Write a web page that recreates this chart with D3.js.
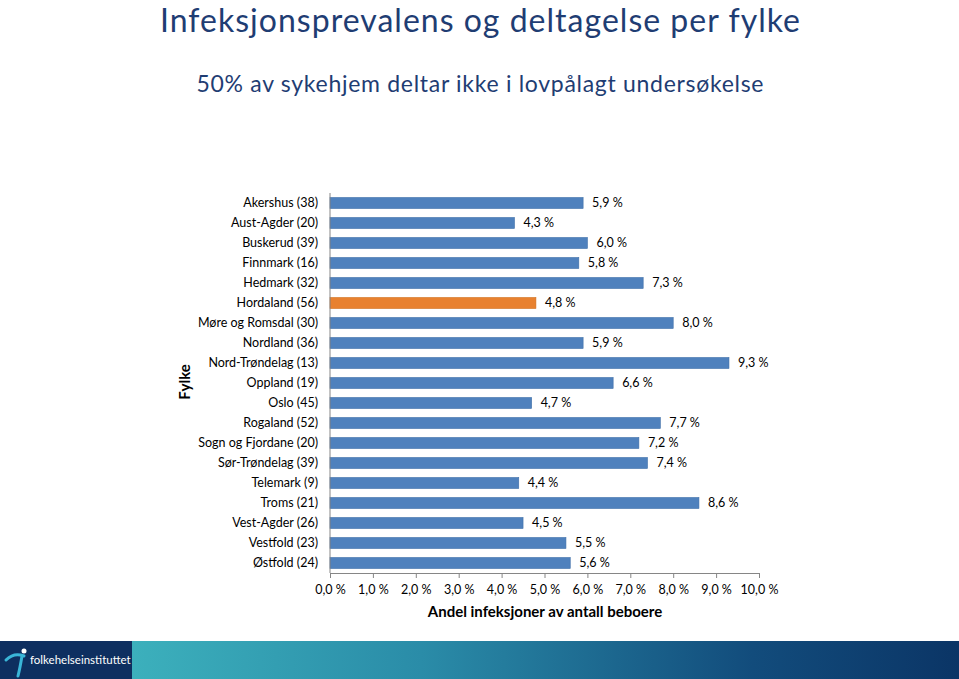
<!DOCTYPE html>
<html><head><meta charset="utf-8">
<script src="https://cdn.jsdelivr.net/npm/d3@7"></script>
<style>body{margin:0;background:#fff;}svg{display:block;font-family:Lato,"Noto Sans",sans-serif;}</style>
</head><body><svg id="c" width="959" height="679"></svg>
<script>
const categories = ["Akershus (38)","Aust-Agder (20)","Buskerud (39)","Finnmark (16)","Hedmark (32)","Hordaland (56)","Møre og Romsdal (30)","Nordland (36)","Nord-Trøndelag (13)","Oppland (19)","Oslo (45)","Rogaland (52)","Sogn og Fjordane (20)","Sør-Trøndelag (39)","Telemark (9)","Troms (21)","Vest-Agder (26)","Vestfold (23)","Østfold (24)"];
const values = [5.9,4.3,6.0,5.8,7.3,4.8,8.0,5.9,9.3,6.6,4.7,7.7,7.2,7.4,4.4,8.6,4.5,5.5,5.6];
const highlighted = ["Hordaland (56)"];
const xTicks = [0,1,2,3,4,5,6,7,8,9,10];
const title = "Infeksjonsprevalens og deltagelse per fylke";
const subtitle = "50% av sykehjem deltar ikke i lovpålagt undersøkelse";
const xTitle = "Andel infeksjoner av antall beboere";
const yTitle = "Fylke";

const svg = d3.select("#c");
const fmt = v => v.toFixed(1).replace(".", ",") + " %";

// footer
const defs = svg.append("defs");
const g = defs.append("linearGradient").attr("id","fg").attr("x1","0").attr("x2","1");
g.append("stop").attr("offset","0").attr("stop-color","#3cb0bc");
g.append("stop").attr("offset","0.35").attr("stop-color","#2a8ca8");
g.append("stop").attr("offset","0.75").attr("stop-color","#124c7c");
g.append("stop").attr("offset","1").attr("stop-color","#0b3566");
svg.append("rect").attr("x",132).attr("y",641).attr("width",827).attr("height",38).attr("fill","url(#fg)");
svg.append("rect").attr("x",0).attr("y",641).attr("width",132).attr("height",38).attr("fill","#0e2f60");
svg.append("path").attr("d","M6,660 Q14,652 24,656 M22,656 Q20,668 18,676").attr("stroke","#3ab6d8").attr("stroke-width",3).attr("fill","none").attr("stroke-linecap","round");
svg.append("circle").attr("cx",24).attr("cy",651).attr("r",2.5).attr("fill","#ffffff");
svg.append("text").attr("x",30).attr("y",664).attr("fill","#fff").attr("font-size",11.5).text("folkehelseinstituttet");

// titles
svg.append("text").attr("x",480).attr("y",31.5).attr("text-anchor","middle").attr("fill","#1f3d73").attr("font-size",32)
  .attr("textLength",640).attr("lengthAdjust","spacing").text(title);
svg.append("text").attr("x",480).attr("y",92).attr("text-anchor","middle").attr("fill","#1f3d73").attr("font-size",23)
  .attr("textLength",567).attr("lengthAdjust","spacing").text(subtitle);

const x = d3.scaleLinear().domain([0,10]).range([330,759]);
const y = d3.scaleBand().domain(categories).range([193,573]).paddingInner(0.45).paddingOuter(0.225);

// bars
svg.append("g").selectAll("rect").data(categories).join("rect")
  .attr("x", x(0)).attr("y", d => y(d)).attr("height", y.bandwidth())
  .attr("width", (d,i) => x(values[i]) - x(0))
  .attr("fill", d => highlighted.includes(d) ? "#e8812f" : "#4f81bd")
  .attr("stroke", d => highlighted.includes(d) ? "#d0701f" : "#3f6fa8").attr("stroke-width",0.6);

// value labels
svg.append("g").selectAll("text").data(categories).join("text")
  .attr("x", (d,i) => x(values[i]) + 9).attr("y", d => y(d) + y.bandwidth()/2)
  .attr("dy","0.35em").attr("font-size",12.5).attr("fill","#000").text((d,i) => fmt(values[i]));

// x axis
const xa = svg.append("g").attr("transform","translate(0,573)")
  .call(d3.axisBottom(x).tickValues(xTicks).tickSize(5).tickSizeOuter(5).tickFormat(fmt));
xa.select(".domain").attr("stroke","#868686");
xa.selectAll(".tick line").attr("stroke","#868686");
xa.selectAll("text").attr("font-size",12.5).attr("fill","#000").attr("font-family","Lato,'Noto Sans',sans-serif").attr("dy","1.05em");

// y axis
const ya = svg.append("g").attr("transform","translate(330,0)")
  .call(d3.axisLeft(y).tickSize(0).tickPadding(12));
ya.select(".domain").attr("stroke","#868686").attr("d","M0,193V573");
ya.selectAll("text").attr("font-size",12.5).attr("fill","#000").attr("font-family","Lato,'Noto Sans',sans-serif");

svg.append("text").attr("x",545).attr("y",617).attr("text-anchor","middle").attr("font-weight","bold").attr("font-size",15).text(xTitle);
svg.append("text").attr("transform","translate(190,382) rotate(-90)").attr("text-anchor","middle").attr("font-weight","bold").attr("font-size",15).text(yTitle);
</script></body></html>
